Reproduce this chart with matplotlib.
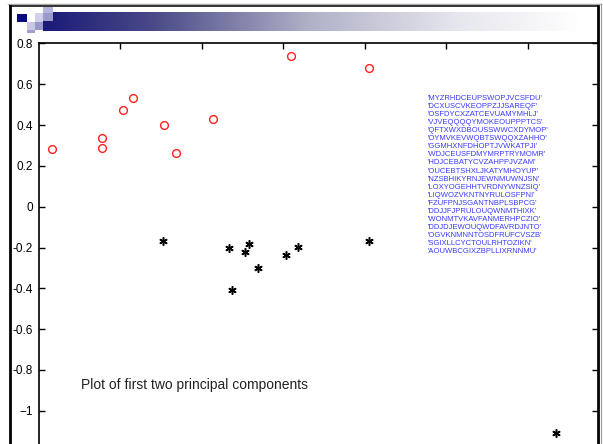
import matplotlib
matplotlib.use("Agg")
import matplotlib.pyplot as plt
from matplotlib.patches import Rectangle
from matplotlib.lines import Line2D
from matplotlib.colors import LinearSegmentedColormap
import numpy as np

plt.rcParams["font.family"] = ["Liberation Sans", "DejaVu Sans"]

# first two principal components, group 1 (red circles)
pc1_circ = [-0.566, -0.445, -0.445, -0.393, -0.368, -0.293, -0.262, -0.172, 0.020, 0.210]
pc2_circ = [0.282, 0.336, 0.290, 0.476, 0.532, 0.401, 0.264, 0.431, 0.738, 0.682]

# group 2 (black stars)
pc1_star = [-0.294, -0.132, -0.083, -0.094, -0.062, -0.124, 0.007, 0.037, 0.212, 0.670]
pc2_star = [-0.166, -0.203, -0.182, -0.223, -0.301, -0.406, -0.236, -0.199, -0.167, -1.107]

ytick_vals = [0.8, 0.6, 0.4, 0.2, 0, -0.2, -0.4, -0.6, -0.8, -1]
ytick_labels = ["0.8", "0.6", "0.4", "0.2", "0", "-0.2", "-0.4", "-0.6", "-0.8", "\u22121"]
xtick_vals = [-0.4, -0.2, 0, 0.2, 0.4, 0.6]

names = [
    "'MYZRHDCEUPSWOPJVCSFDU'",
    "'DCXUSCVKEOPPZJJSAREQF'",
    "'OSFDYCXZATCEVUAMYMHLJ'",
    "'VJVEQQQQYMOKEOUPPPTCS'",
    "'QFTXWXDBOUSSWWCXDYMOP'",
    "'OYMVKEVWQBTSWQQXZAHHO'",
    "'GGMHXNFDHOPTJVWKATPJI'",
    "'WDJCEUSFDMYMRPTRYMOMR'",
    "'HDJCEBATYCVZAHPPJVZAM'",
    "'OUCEBTSHXLJKATYMHOYUP'",
    "'NZSBHIKYRNJEWNMUWNJSN'",
    "'LOXYOGEHHTVRDNYWNZSIQ'",
    "'LIQWOZVKNTNYRULOSFPNI'",
    "'FZUFPNJSGANTNBPLSBPCG'",
    "'DDJJFJPRULOUQWNMTHIXK'",
    "'WONMTVKAVFANMERHPCZIO'",
    "'DDJDJEWOUQWDFAVRDJNTO'",
    "'OGVKNMNNTOSDFRUFCVSZB'",
    "'SGIXLLCYCTOULRHTOZIKN'",
    "'AOUWBCGIXZBPLLIXRNNMU'",
]

W, H = 603, 444
fig = plt.figure(figsize=(W / 100, H / 100), dpi=100)

# slide decoration (pixel coordinates)
deco = fig.add_axes([0, 0, 1, 1])
deco.axis("off")

banner = LinearSegmentedColormap.from_list("banner", [
    (0.0, "#1a1a78"),
    (0.2, "#4a4a88"),
    (0.48, "#b0b0c8"),
    (0.75, "#e6e6ee"),
    (0.97, "#ffffff"),
    (1.0, "#ffffff"),
])
deco.imshow(np.linspace(0, 1, 512)[None, :], cmap=banner, extent=(43, 596, 31.5, 12.7),
            aspect="auto", interpolation="bilinear")
deco.set_xlim(0, W)
deco.set_ylim(H, 0)

squares = [
    (16.7, 14, 10, 7.7, "#0a0a80"),
    (26.7, 21.7, 8.3, 8.3, "#c8c8e4"),
    (26.7, 30, 8.3, 3.3, "#a0a0d0"),
    (35, 13, 8, 8.7, "#d0d0ec"),
    (35, 21.7, 8, 8.3, "#9898cc"),
    (43, 6.7, 9.7, 6.6, "#b4b4dc"),
    (43, 12.7, 9.7, 8.8, "#9a9acc"),
]
for x, y, w, h, c in squares:
    deco.add_patch(Rectangle((x, y), w, h, facecolor=c, edgecolor="none"))

deco.add_line(Line2D([8, 601], [4.5, 4.5], color="#aaaaaa", lw=1))
deco.add_line(Line2D([10, 598], [6.5, 6.5], color="#111111", lw=1.2))
deco.add_line(Line2D([10, 10], [6.5, H], color="black", lw=2))
deco.add_line(Line2D([598, 598], [6.5, H], color="black", lw=2))
deco.add_line(Line2D([601, 601], [4.5, H], color="#999999", lw=0.8))

# main axes
left, right, top = 38.5, 598, 43.5
bottom = top + 2.0 * 204
ax = fig.add_axes([left / W, 1 - bottom / H, (right - left) / W, (bottom - top) / H])
ax.set_xlim(-0.6, -0.6 + (right - left) / 407.5)
ax.set_ylim(-1.2, 0.8)

ax.plot(pc1_circ, pc2_circ, "o", ms=5.6, mfc="none", mec="#ff2020", mew=1.0)
ax.plot(pc1_star, pc2_star, ls="none", marker=(6, 2, 0), ms=6, color="black", mew=1.1)

for i, s in enumerate(names):
    ax.annotate(s, xy=(0.356, 0.530), xytext=(0, -8.05 * i), textcoords="offset pixels",
                fontsize=5.5, color="#3a3aff", va="center", ha="left")

ax.text(-0.495, -0.874, "Plot of first two principal components", fontsize=10,
        color="#222222", va="center", ha="left")

ax.set_yticks(ytick_vals)
ax.set_yticklabels(ytick_labels)
ax.set_xticks(xtick_vals)
ax.tick_params(direction="in", length=4, width=1, labelsize=8.5, pad=4,
               top=True, right=True, labelbottom=False, colors="black")
for sp in ax.spines.values():
    sp.set_linewidth(1.2)

fig.savefig("out.png", dpi=100)
